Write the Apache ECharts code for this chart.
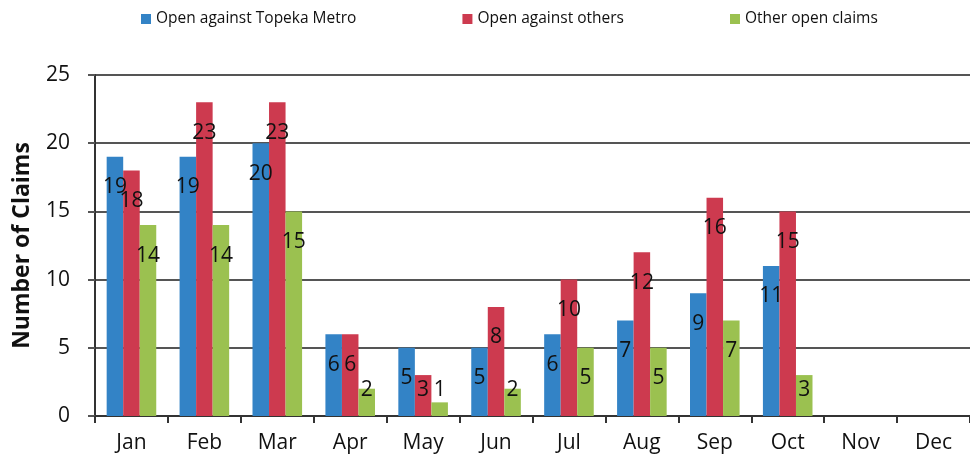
<!DOCTYPE html>
<html>
<head>
<meta charset="utf-8">
<script src="https://cdn.jsdelivr.net/npm/echarts@6/dist/echarts.min.js"></script>
<style>
html,body{margin:0;padding:0;background:#fff;}
#chart{width:970px;height:465px;}
</style>
</head>
<body>
<div id="chart"></div>
<script>
const categories = ['Jan','Feb','Mar','Apr','May','Jun','Jul','Aug','Sep','Oct','Nov','Dec'];
const seriesNames = ['Open against Topeka Metro','Open against others','Other open claims'];
const topekaMetro = [19,19,20,6,5,5,6,7,9,11,null,null];
const againstOthers = [18,23,23,6,3,8,10,12,16,15,null,null];
const otherOpen = [14,14,15,2,1,2,5,5,7,3,null,null];
const yTicks = [0,5,10,15,20,25];
const colors = ['#3383C6','#CD3A4F','#9BC150'];

const FONT = '"Open Sans", "Liberation Sans", sans-serif';

function toData(arr){
  return arr.map(v => {
    if (v == null) return null;
    if (v <= 3) {
      return {value: v, label: {position: 'insideBottom', distance: 15}};
    }
    return v;
  });
}

const valueSets = [topekaMetro, againstOthers, otherOpen];

const chart = echarts.init(document.getElementById('chart'), null, {renderer:'canvas'});
chart.setOption({
  animation: false,
  backgroundColor: '#fff',
  color: colors,
  legend: {
    top: 6,
    left: 136,
    itemWidth: 10,
    itemHeight: 10,
    itemGap: 106,
    icon: 'rect',
    textStyle: {fontFamily: FONT, fontSize: 15.5, color: '#111'},
    data: seriesNames
  },
  grid: {left: 95, right: -6, top: 75, bottom: 49, containLabel: false},
  xAxis: {
    type: 'category',
    data: categories,
    axisLine: {show: true, lineStyle: {color: '#333', width: 2}},
    axisTick: {show: true, length: 7, lineStyle: {color: '#333', width: 2}, alignWithLabel: false},
    axisLabel: {fontFamily: FONT, fontSize: 21, color: '#111', margin: 17},
    splitLine: {show: false}
  },
  yAxis: {
    type: 'value',
    min: yTicks[0],
    max: yTicks[yTicks.length-1],
    interval: 5,
    name: 'Number of Claims',
    nameLocation: 'middle',
    nameGap: 61,
    nameTextStyle: {fontFamily: FONT, fontSize: 23, fontWeight: 'bold', color: '#111'},
    axisLine: {show: true, lineStyle: {color: '#333', width: 2}},
    axisTick: {show: true, length: 7, lineStyle: {color: '#555', width: 2}},
    axisLabel: {fontFamily: FONT, fontSize: 21, color: '#111', margin: 25},
    splitLine: {show: true, lineStyle: {color: '#555', width: 2}}
  },
  series: valueSets.map((vals, i) => ({
    name: seriesNames[i],
    type: 'bar',
    data: toData(vals),
    barGap: '0%',
    barCategoryGap: '32%',
    label: {
      show: true,
      position: 'insideTop',
      distance: 20,
      fontFamily: FONT,
      fontSize: 21,
      color: '#111'
    }
  }))
});
</script>
</body>
</html>
